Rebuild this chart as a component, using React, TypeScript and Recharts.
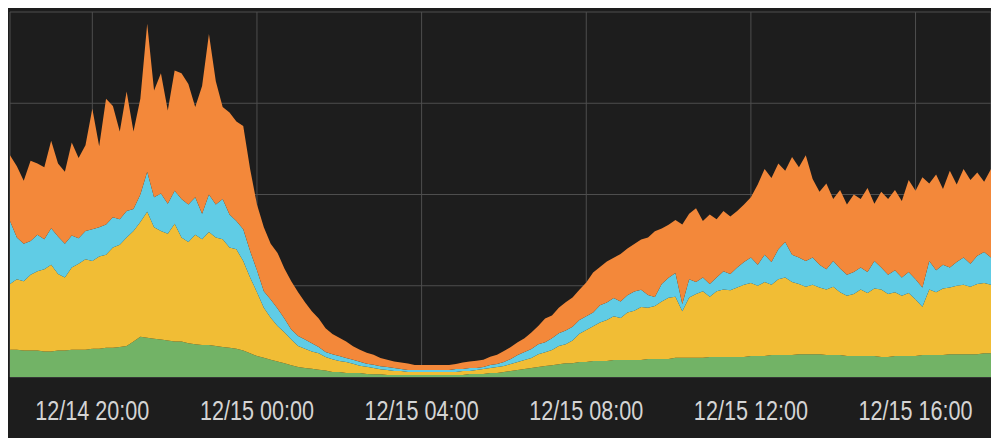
import React from "react";
import { AreaChart, Area, XAxis, YAxis, CartesianGrid } from "recharts";

const startHour = 18; // 12/14 18:00, hours since 12/14 00:00
const stepMinutes = 10;

const tickHours = [20, 24, 28, 32, 36, 40];
const tickLabels = ["12/14 20:00", "12/15 00:00", "12/15 04:00", "12/15 08:00", "12/15 12:00", "12/15 16:00"];
const yTicks = [0, 100, 200, 300, 400];

const green = [
  30, 30, 29, 29, 29, 28, 28, 29, 29, 30, 30, 30, 31, 31, 32, 32, 33, 34, 39, 44,
  43, 42, 41, 40, 39, 39, 37, 36, 35, 35, 34, 33, 32, 31, 29, 26, 23, 21, 19, 17,
  15, 13, 11, 10, 9, 8, 7, 5.5, 5.5, 4.4, 4.4, 4.4, 3.3, 3, 3, 2.2, 2.2, 2.2, 2.2, 2.2,
  2.2, 2.2, 2.2, 2.2, 2.2, 2.2, 2.2, 3.3, 3.3, 3.3, 4.4, 4.4, 5.5, 6.6, 7.7, 8.8, 9.9, 11, 12, 13,
  14, 15, 15, 16.5, 16.5, 17.6, 17.6, 17.6, 18.7, 18.7, 18.7, 18.7, 18.7, 19.8, 19.8, 19.8, 19.8, 21, 21, 21,
  21, 21, 22, 22, 22, 22, 22, 22, 23, 23, 23, 24, 24, 24, 24, 25, 25, 25, 25, 24,
  24, 24, 23, 23, 23, 23, 23, 22, 22, 23, 23, 23, 23, 24, 24, 24, 24, 25, 25, 25,
  25, 25, 26, 26,
];

const yellow = [
  72, 77, 76, 83, 87, 90, 95, 84, 80, 90, 94, 99, 96, 101, 102, 110, 112, 119, 121, 126,
  138, 122, 119, 117, 129, 114, 111, 120, 116, 124, 119, 118, 110, 109, 98, 83, 70, 55, 46, 39,
  34, 28, 23, 21, 19, 18, 15, 14, 12, 12, 10, 8, 8, 7, 5.5, 5.5, 4.4, 4.4, 3.3, 3.3,
  3.3, 3.3, 3.3, 3.3, 3.3, 3.3, 4.4, 3.3, 4.4, 5.5, 5.5, 6.6, 6.6, 7.7, 8.8, 9.9, 11, 14, 15, 16.5,
  20, 21, 25, 31, 35, 38, 42, 45, 48, 46, 52, 54, 58, 56, 58, 63, 67, 67, 51, 66,
  70, 73, 66, 72, 74, 73, 76, 79, 80, 77, 81, 77, 83, 85, 80, 77, 74, 76, 73, 72,
  75, 69, 66, 68, 73, 69, 74, 74, 69, 70, 66, 69, 62, 53, 72, 69, 73, 73, 75, 76,
  74, 77, 77, 75,
];

const cyan = [
  69, 46, 41, 37, 40, 33, 40, 41, 37, 35, 28, 31, 35, 32, 33, 33, 28, 29, 24, 30,
  44, 33, 41, 33, 36, 42, 41, 41, 28, 41, 36, 44, 36, 31, 35, 29, 24, 18, 20, 19,
  15, 11, 11, 10, 9, 7, 5.5, 5.5, 5.5, 4.4, 4.4, 4.4, 3.3, 3.3, 3.3, 3.3, 3.3, 2.2, 2.2, 2.2,
  2.2, 2.2, 2.2, 2.2, 2.2, 3.3, 2.2, 3.3, 2.2, 2.2, 3.3, 3.3, 4.4, 5.5, 7.7, 8.8, 9.9, 11, 11, 13,
  14, 15, 15, 15, 15, 15, 19, 19, 20, 18, 19, 21, 19, 14, 10, 19, 22, 26, 8, 20,
  13, 15, 14, 15, 20, 18, 22, 25, 28, 23, 30, 25, 33, 39, 30, 29, 28, 30, 25, 22,
  28, 26, 23, 24, 24, 23, 30, 24, 21, 24, 20, 23, 22, 21, 31, 24, 26, 22, 26, 30,
  25, 31, 34, 30,
];

const orange = [
  72, 78, 69, 88, 78, 79, 96, 80, 79, 102, 88, 94, 132, 89, 138, 122, 96, 131, 85, 105,
  162, 117, 132, 102, 132, 138, 132, 99, 140, 176, 135, 101, 112, 109, 113, 90, 72, 70, 61, 61,
  55, 53, 48, 41, 35, 31, 26, 22, 20, 18, 15, 13, 12, 11, 9, 8, 7, 7, 7, 5.5,
  5.5, 5.5, 5.5, 5.5, 5.5, 5.5, 7, 7, 8, 8, 9, 10, 12, 13, 14, 15, 18, 20, 26, 25,
  28, 31, 32, 33, 37, 44, 42, 45, 44, 52, 51, 52, 55, 63, 72, 61, 58, 58, 87, 72,
  81, 62, 76, 64, 66, 63, 62, 63, 66, 88, 94, 92, 94, 78, 107, 99, 116, 86, 80, 94,
  68, 86, 77, 85, 75, 92, 63, 83, 83, 88, 84, 101, 97, 121, 85, 105, 83, 106, 85, 97,
  92, 91, 77, 97,
];

const data = green.map((g, i) => ({
  t: startHour + (i * stepMinutes) / 60,
  green: g,
  yellow: yellow[i],
  cyan: cyan[i],
  orange: orange[i],
}));

const labelFor = (v: number) => {
  const idx = tickHours.indexOf(Math.round(v));
  return idx >= 0 ? tickLabels[idx] : "";
};

const Tick = (props: any) => {
  const { x, y, payload } = props;
  return (
    <g transform={`translate(${x},${y + 43}) scale(0.8,1)`}>
      <text
        x={0}
        y={0}
        textAnchor="middle"
        fill="#d4d4d4"
        fontFamily="'Liberation Sans', Arial, sans-serif"
        fontSize={27}
      >
        {labelFor(payload.value)}
      </text>
    </g>
  );
};

export default function App() {
  return (
    <div style={{ width: 991, height: 430, background: "#1d1d1d" }}>
      <AreaChart
        width={991}
        height={430}
        data={data}
        margin={{ top: 4, right: 8, left: 2, bottom: 0 }}
      >
        <CartesianGrid stroke="#4e4e4e" strokeWidth={1} />
        <XAxis
          dataKey="t"
          type="number"
          domain={["dataMin", "dataMax"]}
          ticks={tickHours}
          tick={<Tick />}
          tickLine={false}
          axisLine={false}
          tickSize={0}
          tickMargin={0}
          height={61}
          interval={0}
        />
        <YAxis hide domain={[0, 400]} ticks={yTicks} />
        <Area type="linear" dataKey="green" stackId="a" stroke="none" fill="#72b366" fillOpacity={1} isAnimationActive={false} dot={false} activeDot={false} />
        <Area type="linear" dataKey="yellow" stackId="a" stroke="none" fill="#f1bd35" fillOpacity={1} isAnimationActive={false} dot={false} activeDot={false} />
        <Area type="linear" dataKey="cyan" stackId="a" stroke="none" fill="#60cce5" fillOpacity={1} isAnimationActive={false} dot={false} activeDot={false} />
        <Area type="linear" dataKey="orange" stackId="a" stroke="none" fill="#f3883a" fillOpacity={1} isAnimationActive={false} dot={false} activeDot={false} />
      </AreaChart>
    </div>
  );
}
